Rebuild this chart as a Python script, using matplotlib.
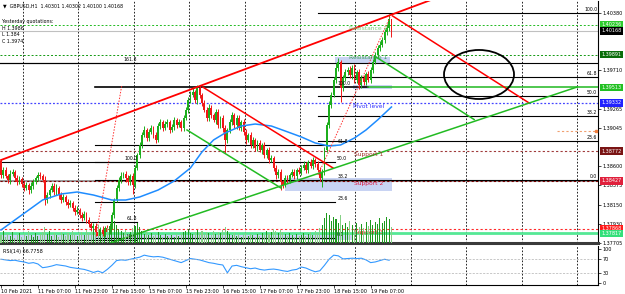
import numpy as np
import matplotlib
matplotlib.use('Agg')
import matplotlib.pyplot as plt
from matplotlib.patches import Ellipse, Rectangle
from matplotlib.transforms import blended_transform_factory

# GBPUSD H1, 10 Feb - 19 Feb 2021
first_open = 1.38660
closes = [
    1.38494, 1.38552, 1.38483, 1.38436, 1.38506, 1.38529, 1.38459, 1.38413, 1.38448, 1.38390,
    1.38343, 1.38378, 1.38320, 1.38367, 1.38413, 1.38459, 1.38494, 1.38483, 1.38436, 1.38204,
    1.38262, 1.38320, 1.38367, 1.38297, 1.38343, 1.38262, 1.38204, 1.38239, 1.38181, 1.38146,
    1.38169, 1.38111, 1.38065, 1.38088, 1.38030, 1.37995, 1.38041, 1.37972, 1.37925, 1.37879,
    1.37902, 1.37832, 1.37786, 1.37856, 1.37809, 1.37879, 1.37832, 1.37902, 1.38030, 1.38204,
    1.38343, 1.38436, 1.38483, 1.38506, 1.38459, 1.38413, 1.38483, 1.38378, 1.38576, 1.38726,
    1.38843, 1.38959, 1.39017, 1.38924, 1.38993, 1.39040, 1.38959, 1.38901, 1.39063, 1.39110,
    1.39040, 1.39086, 1.39110, 1.39017, 1.39052, 1.39133, 1.39075, 1.39110, 1.39040, 1.39156,
    1.39249, 1.39365, 1.39423, 1.39458, 1.39365, 1.39504, 1.39423, 1.39330, 1.39249, 1.39156,
    1.39272, 1.39191, 1.39133, 1.39226, 1.39075, 1.39156, 1.39040, 1.38901, 1.39017, 1.39110,
    1.39191, 1.39075, 1.39156, 1.39040, 1.39110, 1.38993, 1.38901, 1.38959, 1.38843, 1.38901,
    1.38808, 1.38866, 1.38784, 1.38843, 1.38726, 1.38784, 1.38668, 1.38692, 1.38576, 1.38494,
    1.38529, 1.38413, 1.38378, 1.38459, 1.38436, 1.38494, 1.38529, 1.38483, 1.38552, 1.38529,
    1.38576, 1.38610, 1.38552, 1.38645, 1.38599, 1.38668, 1.38622, 1.38552, 1.38459, 1.38529,
    1.38784, 1.39075, 1.39307, 1.39423, 1.39597, 1.39737, 1.39806, 1.39504, 1.39620, 1.39690,
    1.39713, 1.39655, 1.39737, 1.39597, 1.39690, 1.39539, 1.39620, 1.39574, 1.39667, 1.39597,
    1.39713, 1.39806, 1.39887, 1.39969, 1.40004, 1.40062, 1.40154, 1.40201, 1.40301, 1.40168,
]
wick_up = [
    2, 3, 4, 2, 5, 3, 2, 4, 3, 2,  3, 4, 2, 5, 3, 2, 4, 3, 2, 5,
    3, 2, 4, 3, 5, 2, 3, 4, 2, 3,  4, 2, 3, 5, 2, 3, 4, 2, 3, 2,
    3, 4, 2, 3, 5, 2, 3, 4, 3, 2,  4, 3, 5, 2, 3, 4, 2, 3, 4, 2,
    3, 4, 5, 2, 3, 4, 2, 3, 4, 3,  2, 3, 4, 2, 3, 4, 2, 3, 2, 3,
    4, 3, 5, 6, 2, 4, 3, 2, 3, 4,  5, 3, 2, 4, 3, 2, 4, 3, 2, 4,
    3, 2, 4, 3, 2, 4, 3, 2, 3, 4,  2, 3, 4, 2, 3, 2, 4, 3, 2, 3,
    4, 3, 2, 4, 3, 2, 3, 4, 2, 3,  4, 5, 3, 2, 4, 3, 2, 3, 4, 3,
    3, 4, 5, 3, 4, 6, 5, 2, 4, 3,  4, 5, 3, 4, 2, 3, 4, 3, 2, 4,
    3, 4, 3, 4, 5, 3, 4, 5, 6, 0,
]
wick_dn = [
    3, 4, 2, 3, 5, 2, 4, 3, 2, 4,  3, 2, 5, 3, 4, 2, 3, 4, 2, 6,
    4, 3, 2, 4, 3, 5, 3, 2, 4, 3,  2, 4, 3, 2, 4, 3, 2, 4, 3, 5,
    3, 4, 4, 3, 2, 4, 3, 2, 4, 3,  2, 4, 3, 2, 5, 3, 4, 10, 3, 2,
    4, 3, 2, 4, 3, 2, 4, 3, 2, 4,  3, 2, 4, 3, 2, 4, 3, 2, 4, 3,
    2, 3, 4, 2, 3, 5, 4, 3, 2, 4,  3, 4, 2, 5, 3, 4, 5, 15, 3, 4,
    4, 3, 5, 2, 4, 3, 5, 2, 4, 3,  3, 4, 2, 5, 3, 4, 3, 2, 4, 5,
    4, 9, 3, 2, 4, 3, 2, 4, 3, 2,  3, 2, 4, 3, 2, 4, 3, 2, 4, 10,
    3, 2, 4, 3, 2, 4, 3, 16, 4, 3,  4, 3, 5, 4, 3, 5, 3, 4, 3, 2,
    4, 3, 2, 4, 3, 2, 4, 3, 3, 7,
]
volumes = [
    80, 120, 60, 90, 70, 110, 50, 80, 100, 60,  90, 70, 120, 80, 60, 100, 70, 90, 110, 160,
    90, 120, 70, 100, 80, 60, 110, 90, 70, 100,  80, 120, 90, 70, 100, 110, 80, 130, 100, 120,
    140, 110, 180, 130, 90, 120, 150, 170, 200, 220,  180, 140, 120, 100, 130, 90, 110, 150, 170, 200,
    160, 120, 90, 110, 80, 100, 70, 90, 110, 80,  60, 90, 70, 50, 80, 60, 90, 70, 100, 110,
    120, 140, 100, 90, 110, 130, 100, 120, 90, 110,  100, 80, 120, 90, 110, 100, 130, 160, 120, 90,
    80, 100, 70, 90, 60, 80, 100, 70, 90, 80,  60, 90, 70, 100, 80, 120, 90, 110, 140, 120,
    100, 130, 110, 90, 70, 100, 80, 60, 90, 70,  80, 100, 70, 90, 110, 80, 120, 100, 150, 180,
    250, 300, 280, 220, 260, 240, 200, 280, 180, 200,  160, 220, 180, 140, 200, 160, 190, 150, 210, 170,
    230, 180, 210, 190, 250, 200, 220, 260, 240, 160,
]
ma_bars = [0, 9, 18, 26, 33, 40, 48, 54, 60, 68, 75, 82, 87, 92, 97, 104, 110, 117, 123,
           130, 136, 142, 147, 153, 158, 163, 169]
ma_vals = [1.37856, 1.38030, 1.38204, 1.38274, 1.38297, 1.38262, 1.38204, 1.38204, 1.38239,
           1.38320, 1.38425, 1.38576, 1.38762, 1.38901, 1.38982, 1.39063, 1.39086, 1.39063,
           1.39005, 1.38936, 1.38866, 1.38831, 1.38843, 1.38924, 1.39017, 1.39133, 1.39284]
rsi_vals = [
    70, 68, 66, 67, 64, 62, 58, 60, 56, 45,  47, 50, 54, 52, 50, 46, 44, 42, 40, 36,
    31, 35, 30, 40, 52, 66, 68, 67, 70, 73,  76, 82, 79, 77, 78, 76, 72, 68, 64, 60,
    66, 72, 70, 68, 64, 60, 58, 55, 53, 30,  50, 52, 48, 45, 42, 44, 40, 38, 40, 41,
    39, 36, 34, 38, 40, 47, 44, 38, 33, 36,  52, 70, 82, 80, 71, 72, 73, 72, 73, 68,
    60, 62, 66, 70, 67,
]
time_labels = ['10 Feb 2021', '11 Feb 07:00', '11 Feb 23:00', '12 Feb 15:00', '15 Feb 07:00',
               '15 Feb 23:00', '16 Feb 15:00', '17 Feb 07:00', '17 Feb 23:00', '18 Feb 15:00',
               '19 Feb 07:00']
price_ticks = [1.40380, 1.39710, 1.39265, 1.39045, 1.38600, 1.38375, 1.38150, 1.37930, 1.37705]

# fibonacci sets
fib_a_levels = ['161.8', '100.0', '61.8', '50.0']
fib_a_prices = [1.39795, 1.38645, 1.37951, 1.37740]
fib_b_levels = ['100.0', '61.8', '50.0', '38.2', '23.6', '0.0']
fib_b_prices = [1.40375, 1.39634, 1.39406, 1.39177, 1.38894, 1.38436]
fib_c_levels = ['100.0', '61.8', '50.0', '38.2', '23.6', '0.0']
fib_c_prices = [1.39516, 1.38846, 1.38640, 1.38433, 1.38177, 1.37763]

# horizontal levels with their price boxes
level_prices = [1.40236, 1.40168, 1.39891, 1.39513, 1.39332, 1.38772, 1.38427, 1.37868, 1.37817]
level_colors = ['#2ecc2e', '#000000', '#0a6e0a', '#22c022', '#2222ff', '#7a1414', '#e0203c',
                '#ff1a1a', '#33e07a']
sr_names = ['Resistance 2', 'Resistance 1', 'Pivot level', 'Support 1', 'Support 2', 'Support 3']
sr_prices = [1.40236, 1.39891, 1.39332, 1.38772, 1.38427, 1.37868]
sr_colors = ['#7ccf7c', '#3c9a5c', '#3030ff', '#a0302a', '#dc143c', '#ff2020']

n = len(closes)
bars = np.arange(n)
c = np.array(closes)
o = np.array([first_open] + closes[:-1])
hi = np.maximum(o, c) + np.array(wick_up) * 0.0001
lo = np.minimum(o, c) - np.array(wick_dn) * 0.0001
up = c >= o

W, H = 625, 294
fig = plt.figure(figsize=(6.25, 2.94), dpi=100)
fig.patch.set_facecolor('white')


def fy(y):
    return 1 - y / H


ax = fig.add_axes([0, fy(243), 598 / W, 242 / H])
rsi_ax = fig.add_axes([0, fy(285), 598 / W, 39 / H])
vol_ax = ax.twinx()
ax.set_zorder(1)
vol_ax.set_zorder(2)
vol_ax.patch.set_visible(False)
ax.set_xlim(-0.43, 258.4)
ax.set_ylim(1.37705, 1.40514)
vol_ax.set_ylim(0, 2420)
vol_ax.axis('off')
rsi_ax.set_xlim(-0.43, 258.4)
rsi_ax.set_ylim(-6, 109)

for a in (ax, rsi_ax):
    for b in np.arange(9.4, 258, 24):
        a.axvline(b, color='black', lw=0.6, ls=(0, (2, 2)), zorder=0)
    a.spines['left'].set_visible(False)
    a.spines['top'].set_visible(False)
    a.spines['right'].set_linewidth(0.8)
ax.spines['bottom'].set_linewidth(2.2)
ax.spines['bottom'].set_color('#3a3a3a')
rsi_ax.spines['bottom'].set_linewidth(0.8)

# volumes
vol_ax.bar(bars, volumes, width=0.45, color=np.where(up, '#1f9a1f', '#86d086'), lw=0)

# zones
zone = '#c8d3f3'
ax.add_patch(Rectangle((144.6, 1.39794), 23.8, 0.0007, fc=zone, ec='none', zorder=1))
ax.add_patch(Rectangle((152.4, 1.39493), 16.9, 0.00046, fc=zone, ec='none', zorder=1))
ax.add_patch(Rectangle((122.9, 1.38309), 46.4, 0.0015, fc=zone, ec='none', zorder=1))
ax.add_patch(Rectangle((-0.4, 1.37740), 152.8, 0.00081, fc=zone, ec='none', zorder=1))

# horizontal levels
ax.axhline(level_prices[0], color='#22bb22', lw=0.7, ls=(0, (2, 2)), zorder=1)
ax.axhline(level_prices[1], color='#c0c0c0', lw=0.8, zorder=1)
ax.axhline(level_prices[2], color='#119911', lw=0.7, ls=(0, (2, 2)), zorder=1)
ax.axhline(level_prices[4], color='#4444ff', lw=0.9, ls=(0, (1.5, 1.5)), zorder=1)
ax.axhline(level_prices[5], color='#a03a3a', lw=0.8, ls=(0, (2, 2)), zorder=1)
ax.axhline(level_prices[6], color='#9a9a9a', lw=1.4, zorder=1)
ax.axhline(level_prices[6], color='#800000', lw=0.8, ls=(0, (2, 2)), zorder=1)
ax.axhline(level_prices[7], color='#ff2a2a', lw=0.8, ls=(0, (2, 2)), zorder=1)
ax.axhline(level_prices[8], color='#55e895', lw=2.0, zorder=1)
ax.plot([158.9, 258.4], [level_prices[3]] * 2, color='#1fb81f', lw=1.1, zorder=4)
ax.plot([240.7, 257.5], [1.39005] * 2, color='#f0a070', lw=0.8, ls=(0, (2, 2)), zorder=4)
ax.plot([257.5], [1.39005], marker='s', ms=1.5, color='#f08040', zorder=4)

# fibonacci lines
fs_fib = 3.3
ax.plot([-0.4, 258.4], [fib_a_prices[0]] * 2, color='black', lw=0.8, zorder=1)
for lev, p in zip(fib_a_levels, fib_a_prices):
    ax.plot([-0.4, 59], [p, p], color='black', lw=0.8, zorder=1)
    ax.text(59, p + 0.00012, lev, fontsize=fs_fib, ha='right', va='bottom', zorder=5)
for i, (lev, p) in enumerate(zip(fib_c_levels, fib_c_prices)):
    ax.plot([40.7, 158.9 if i == 0 else 144.6], [p, p], color='black',
            lw=1.2 if i == 0 else 0.8, zorder=1)
    ax.text(145.5, p + 0.00012, lev, fontsize=fs_fib, ha='left', va='bottom', zorder=5)
for lev, p in zip(fib_b_levels, fib_b_prices):
    ax.plot([137.2, 258.4], [p, p], color='black', lw=0.8, zorder=1)
    ax.text(258, p + 0.00012, lev, fontsize=fs_fib, ha='right', va='bottom', zorder=5)

# candles
col = np.where(up, '#1cae1c', '#f01818')
ax.vlines(bars, lo, hi, color=col, lw=0.7, zorder=3)
ax.bar(bars, np.maximum(np.abs(c - o), 0.00003), bottom=np.minimum(o, c), width=0.8,
       color=col, lw=0, zorder=3)

# moving average
ax.plot(ma_bars, ma_vals, color='#1e8cff', lw=1.1, zorder=3)

# trend lines
ax.plot([0, 186.1], [1.38668, 1.40526], color='#ff0000', lw=1.3, zorder=4)
ax.plot([87.4, 143.7], [1.39514, 1.38576], color='#ff0000', lw=1.1, zorder=4)
ax.plot([169.5, 228.6], [1.40340, 1.39330], color='#ff0000', lw=1.1, zorder=4)
ax.plot([47.2, 249.4], [1.37705, 1.39516], color='#22bb22', lw=1.1, zorder=4)
ax.plot([80.5, 121.2], [1.39017, 1.38343], color='#22bb22', lw=1.1, zorder=4)
ax.plot([162.3, 204.8], [1.39864, 1.39138], color='#22bb22', lw=1.1, zorder=4)
ax.plot([41.0, 52.3], [1.37774, 1.39539], color='#ff3030', lw=0.7, ls=(0, (1.5, 1.5)), zorder=4)
ax.plot([137.2, 168.8], [1.38494, 1.40352], color='#ff3030', lw=0.7, ls=(0, (1.5, 1.5)), zorder=4)
ax.add_patch(Ellipse((206.9, 1.39661), 30.3, 0.00569, fill=False, ec='black', lw=1.3, zorder=5))

# support / resistance labels
for name, p, cl in zip(sr_names, sr_prices, sr_colors):
    ax.text(159, p - 0.00008, name, fontsize=4.3, color=cl, ha='center', va='top', zorder=5)

# right price axis
ax.yaxis.tick_right()
ax.set_yticks(price_ticks)
ax.set_yticklabels([f'{t:.5f}' for t in price_ticks], fontsize=3.5)
ax.tick_params(axis='y', length=2, pad=1, width=0.5)
ax.set_xticks([])
tr = blended_transform_factory(ax.transAxes, ax.transData)
for p, cl in zip(level_prices, level_colors):
    ax.text(1.006, p, f'{p:.5f}', transform=tr, fontsize=3.5, color='white', ha='left',
            va='center', zorder=6, clip_on=False,
            bbox=dict(boxstyle='square,pad=0.25', fc=cl, ec='none'))

# RSI window
rsi_ax.plot(np.arange(0, 170, 2), rsi_vals, color='#3399ff', lw=0.8)
for lvl in (70, 30):
    rsi_ax.axhline(lvl, color='#b0b0b0', lw=0.5, ls=(0, (3, 2)))
rsi_ax.yaxis.tick_right()
rsi_ax.set_yticks([0, 30, 70, 100])
rsi_ax.set_yticklabels(['0', '30', '70', '100'], fontsize=3.5)
rsi_ax.tick_params(axis='y', length=2, pad=1, width=0.5)
rsi_ax.set_xticks(np.arange(0, 170, 16))
rsi_ax.set_xticklabels(time_labels, fontsize=3.6, ha='left')
rsi_ax.tick_params(axis='x', length=2, pad=1, width=0.5)
rsi_ax.text(0.005, 0.93, 'RSI(14) 66.7758', transform=rsi_ax.transAxes, fontsize=3.5,
            va='top')

# header
fig.text(3 / W, fy(6), '\u25bc  GBPUSD,H1  1.40301 1.40302 1.40100 1.40168', fontsize=3.4,
         va='center')
fig.text(2 / W, fy(21.5), 'Yesterday quotations:', fontsize=3.4, va='center')
fig.text(2 / W, fy(28), 'H 1.3986', fontsize=3.4, va='center')
fig.text(2 / W, fy(34.5), 'L 1.384', fontsize=3.4, va='center')
fig.text(2 / W, fy(42), 'C 1.3974', fontsize=3.4, va='center')

fig.savefig('out.png', dpi=100)
